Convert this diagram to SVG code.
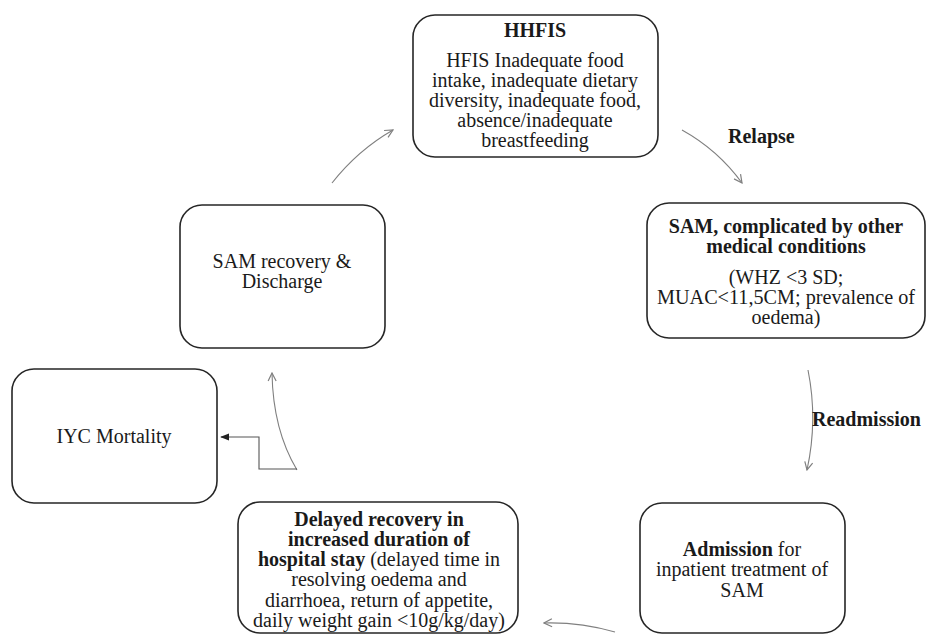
<svg xmlns="http://www.w3.org/2000/svg" width="927" height="635" viewBox="0 0 927 635" font-family="Liberation Serif, Times New Roman, Times, serif">
<defs>
<style>
.box{fill:#fff;stroke:#262626;stroke-width:1.6}
.t{font-size:20px;fill:#1a1a1a;text-anchor:middle}
.b{font-weight:bold}
.lbl{font-size:20px;font-weight:bold;fill:#1a1a1a}
.arr{fill:none;stroke:#808080;stroke-width:1.1;marker-end:url(#open)}
.elb{fill:none;stroke:#555;stroke-width:1.1;marker-end:url(#solid)}
</style>
<marker id="open" viewBox="0 0 10 10" refX="9" refY="5" markerWidth="10" markerHeight="10" markerUnits="userSpaceOnUse" orient="auto">
<path d="M1,1 L9,5 L1,9" fill="none" stroke="#808080" stroke-width="1.2"/>
</marker>
<marker id="solid" viewBox="0 0 10 10" refX="9" refY="5" markerWidth="9" markerHeight="9" markerUnits="userSpaceOnUse" orient="auto">
<path d="M0,1 L10,5 L0,9 Z" fill="#222"/>
</marker>
</defs>
<rect width="927" height="635" fill="#fff"/>

<g id="connectors">
<path class="arr" d="M332,183 Q358,150 393,130"/>
<path class="arr" d="M682,130 Q718,150 742,183"/>
<path class="arr" d="M808,370 Q818,420 807,470"/>
<path class="arr" d="M615,632 Q580,622 544,623"/>
<path class="arr" d="M297,470 Q273,430 272,373"/>
<path class="elb" d="M297,469 L259,469 L259,437 L221,437"/>
<text class="lbl" x="728" y="143">Relapse</text>
<text class="lbl" x="812" y="426">Readmission</text>
</g>

<g id="hhfis">
<rect class="box" x="413" y="15" width="245" height="142" rx="22"/>
<text class="t b" x="535" y="37">HHFIS</text>
<text class="t" x="535" y="67">HFIS Inadequate food</text>
<text class="t" x="535" y="87">intake, inadequate dietary</text>
<text class="t" x="535" y="107">diversity, inadequate food,</text>
<text class="t" x="535" y="127">absence/inadequate</text>
<text class="t" x="535" y="147">breastfeeding</text>
</g>

<g id="sam-complicated">
<rect class="box" x="647" y="203" width="278" height="135" rx="22"/>
<text class="t b" x="786" y="233">SAM, complicated by other</text>
<text class="t b" x="786" y="253">medical conditions</text>
<text class="t" x="786" y="284">(WHZ &lt;3 SD;</text>
<text class="t" x="786" y="304" textLength="258" lengthAdjust="spacingAndGlyphs">MUAC&lt;11,5CM; prevalence of</text>
<text class="t" x="786" y="324">oedema)</text>
</g>

<g id="admission">
<rect class="box" x="640" y="503" width="205" height="130" rx="22"/>
<text class="t" x="742" y="556"><tspan class="b">Admission</tspan> for</text>
<text class="t" x="742" y="576">inpatient treatment of</text>
<text class="t" x="742" y="597">SAM</text>
</g>

<g id="delayed">
<rect class="box" x="238" y="502" width="280" height="131" rx="22"/>
<text class="t b" x="379" y="526">Delayed recovery in</text>
<text class="t b" x="379" y="546">increased duration of</text>
<text class="t" x="379" y="566"><tspan class="b">hospital stay</tspan> (delayed time in</text>
<text class="t" x="379" y="586">resolving oedema and</text>
<text class="t" x="379" y="607">diarrhoea, return of appetite,</text>
<text class="t" x="379" y="627">daily weight gain &lt;10g/kg/day)</text>
</g>

<g id="iyc">
<rect class="box" x="12" y="369" width="205" height="134" rx="22"/>
<text class="t" x="114" y="443">IYC Mortality</text>
</g>

<g id="recovery">
<rect class="box" x="180" y="205" width="205" height="143" rx="22"/>
<text class="t" x="282" y="268">SAM recovery &amp;</text>
<text class="t" x="282" y="288">Discharge</text>
</g>
</svg>
